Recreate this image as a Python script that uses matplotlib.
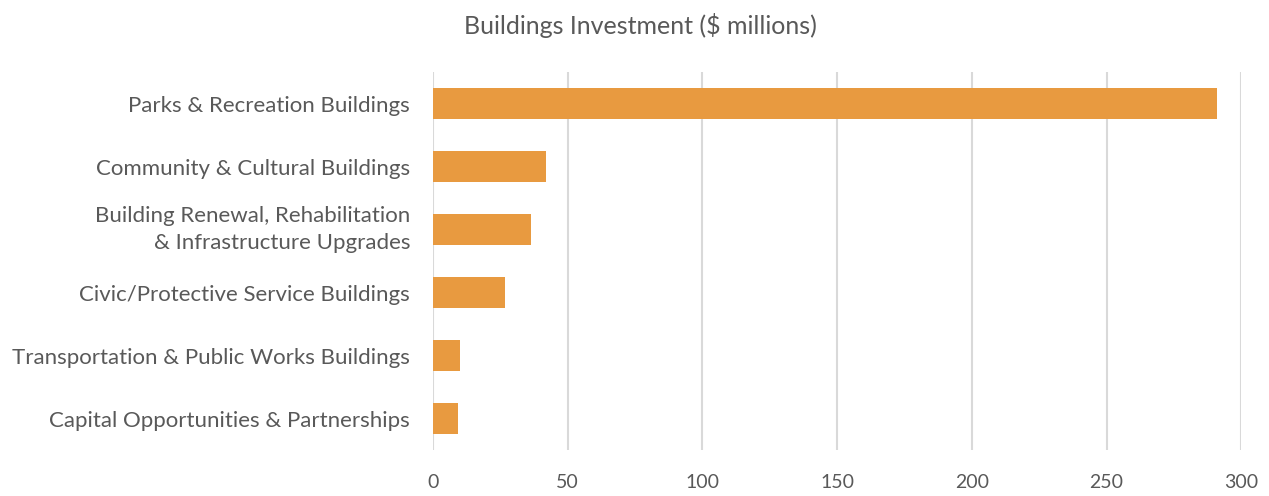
import matplotlib.pyplot as plt

plt.rcParams['font.family'] = ['Lato', 'DejaVu Sans']

categories = [
    "Parks & Recreation Buildings",
    "Community & Cultural Buildings",
    "Building Renewal, Rehabilitation\n& Infrastructure Upgrades",
    "Civic/Protective Service Buildings",
    "Transportation & Public Works Buildings",
    "Capital Opportunities & Partnerships",
]
investment = [291, 42, 36.3, 26.8, 10.0, 9.4]
ticks = [0, 50, 100, 150, 200, 250, 300]

text_color = "#595959"

fig = plt.figure(figsize=(12.69, 4.96), dpi=100)
ax = fig.add_axes([0.3412, 0.0927, 0.6370, 0.7621])

pos = list(range(len(categories)))[::-1]
ax.barh(pos, investment, height=0.5, color="#E89A40", zorder=3)

ax.set_xlim(0, 300)
ax.set_ylim(-0.5, len(categories) - 0.5)
ax.set_xticks(ticks)
ax.set_yticks(pos)
ax.set_yticklabels(categories, linespacing=1.45)

# two-line label centred on its bar
for lbl in ax.get_yticklabels():
    if "\n" in lbl.get_text():
        lbl.set_va("center")

ax.grid(axis="x", color="#D9D9D9", linewidth=1.5, zorder=0)
for s in ax.spines.values():
    s.set_visible(False)

ax.tick_params(axis="y", length=0, pad=16.5, labelsize=16, labelcolor=text_color)
ax.tick_params(axis="x", length=0, pad=17, labelsize=14, labelcolor=text_color)

fig.text(0.505, 0.948, "Buildings Investment ($ millions)", ha="center", va="center",
         fontsize=18, color=text_color)

fig.savefig("out.png", dpi=100)
